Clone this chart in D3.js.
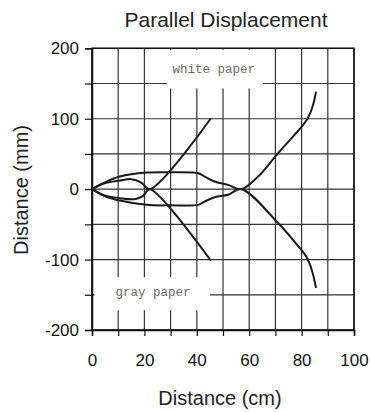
<meta charset="utf-8">
<style>
  body { margin: 0; background: #fff; }
  text { font-family: "Liberation Sans", Arial, Helvetica, sans-serif; }
  .grid line { stroke: #333; stroke-width: 1.2px; }
  .tag text { font-family: "Liberation Mono", "Courier New", monospace; fill: #6a6a6a; font-size: 12.5px; }
</style>
<div id="chart"></div>
<script src="https://cdn.jsdelivr.net/npm/d3@7"></script>
<script>
// traced curves, x in cm, y in mm
var whiteSmallX = [0, 4.5, 10.6, 15, 18.8, 22, 45.4];
var whiteSmallY = [0, 8, 12.2, 14.2, 9.4, 0, 100.7];
var graySmallX = [0, 4.5, 10.6, 16.3, 19.5, 22, 45.4];
var graySmallY = [0, -8.5, -12.8, -14.2, -9.5, 0, -101.7];
var whiteBigX = [0, 4.8, 10.6, 20.7, 30, 40.5, 43, 46.8, 51.9, 57, 63.4, 70.5, 76.7, 80.3, 82.4, 83.7, 84.7, 85.5];
var whiteBigY = [0, 9.4, 17.9, 23.5, 24, 22.7, 17.9, 10.8, 6.1, 0, 17.9, 48.7, 74.6, 90, 101, 112, 124, 138.4];
var grayBigX = [0, 4.8, 10.6, 20.7, 30, 40.5, 43, 46.8, 51.9, 57, 70.5, 78.5, 81.3, 83, 84.3, 85.5];
var grayBigY = [0, -9.8, -16.2, -22.3, -23, -22.3, -17.6, -11.4, -8, 0, -46, -80, -93, -105, -120, -140.4];

var xTicks = [0, 10, 20, 30, 40, 50, 60, 70, 80, 90, 100];
var yTicks = [-200, -150, -100, -50, 0, 50, 100, 150, 200];

var W = 370, H = 412;
var margin = {top: 48.3, right: 16, bottom: 82, left: 92};
var width = W - margin.left - margin.right,
    height = H - margin.top - margin.bottom;

var x = d3.scaleLinear().domain([0, 100]).range([0, width]);
var y = d3.scaleLinear().domain([-200, 200]).range([height, 0]);

var svg = d3.select("#chart").append("svg")
    .attr("width", W)
    .attr("height", H);

svg.append("text")
    .attr("x", 226).attr("y", 27)
    .attr("text-anchor", "middle")
    .style("font-size", "21px")
    .style("fill", "#222")
    .text("Parallel Displacement");

var g = svg.append("g")
    .attr("transform", "translate(" + margin.left + "," + margin.top + ")");

// grid
var grid = g.append("g").attr("class", "grid");
grid.selectAll(".v").data(xTicks).enter().append("line")
    .attr("x1", function (d) { return x(d); })
    .attr("x2", function (d) { return x(d); })
    .attr("y1", 0).attr("y2", height);
grid.selectAll(".h").data(yTicks).enter().append("line")
    .attr("x1", 0).attr("x2", width)
    .attr("y1", function (d) { return y(d); })
    .attr("y2", function (d) { return y(d); });

// label boxes knock out the grid
var tags = g.append("g").attr("class", "tag");
tags.append("rect")
    .attr("x", x(28.6)).attr("y", 1.5)
    .attr("width", x(65.3) - x(28.6)).attr("height", y(143) - 1.5)
    .attr("fill", "#fff");
tags.append("text")
    .attr("x", x(46.5)).attr("y", y(165))
    .attr("text-anchor", "middle")
    .text("white paper");
tags.append("rect")
    .attr("x", x(1)).attr("y", y(-125))
    .attr("width", x(45) - x(1)).attr("height", y(-172) - y(-125))
    .attr("fill", "#fff");
tags.append("text")
    .attr("x", x(23.3)).attr("y", y(-152))
    .attr("text-anchor", "middle")
    .text("gray paper");

// frame
g.append("rect")
    .attr("width", width).attr("height", height)
    .attr("fill", "none")
    .attr("stroke", "#111")
    .attr("stroke-width", 1.5);

var xAxis = g.append("g")
    .attr("transform", "translate(0," + height + ")")
    .call(d3.axisBottom(x).tickValues(xTicks).tickSize(6).tickPadding(18)
        .tickFormat(function (d) { return d % 20 === 0 ? d : ""; }));
var yAxis = g.append("g")
    .call(d3.axisLeft(y).tickValues(yTicks).tickSize(7).tickPadding(6)
        .tickFormat(function (d) { return d % 100 === 0 ? d : ""; }));
[xAxis, yAxis].forEach(function (a) {
    a.select(".domain").attr("stroke", "#111").attr("stroke-width", 1.5);
    a.selectAll(".tick line").attr("stroke", "#111").attr("stroke-width", 1.2);
    a.selectAll(".tick text")
        .style("font-size", "17px")
        .style("font-family", "'Liberation Sans', Arial, sans-serif")
        .attr("fill", "#111");
});

// curves
var line = d3.line()
    .x(function (d) { return x(d[0]); })
    .y(function (d) { return y(d[1]); })
    .curve(d3.curveCatmullRom.alpha(0.5));

[[whiteSmallX, whiteSmallY], [graySmallX, graySmallY],
 [whiteBigX, whiteBigY], [grayBigX, grayBigY]].forEach(function (s) {
    g.append("path")
        .datum(d3.zip(s[0], s[1]))
        .attr("d", line)
        .attr("fill", "none")
        .attr("stroke", "#1a1a1a")
        .attr("stroke-width", 2)
        .attr("stroke-linejoin", "round");
});

// axis titles
svg.append("text")
    .attr("x", 220).attr("y", 405)
    .attr("text-anchor", "middle")
    .style("font-size", "20px")
    .style("fill", "#222")
    .text("Distance (cm)");
svg.append("text")
    .attr("transform", "translate(28,190) rotate(-90)")
    .attr("text-anchor", "middle")
    .style("font-size", "20px")
    .style("fill", "#222")
    .text("Distance (mm)");
</script>
